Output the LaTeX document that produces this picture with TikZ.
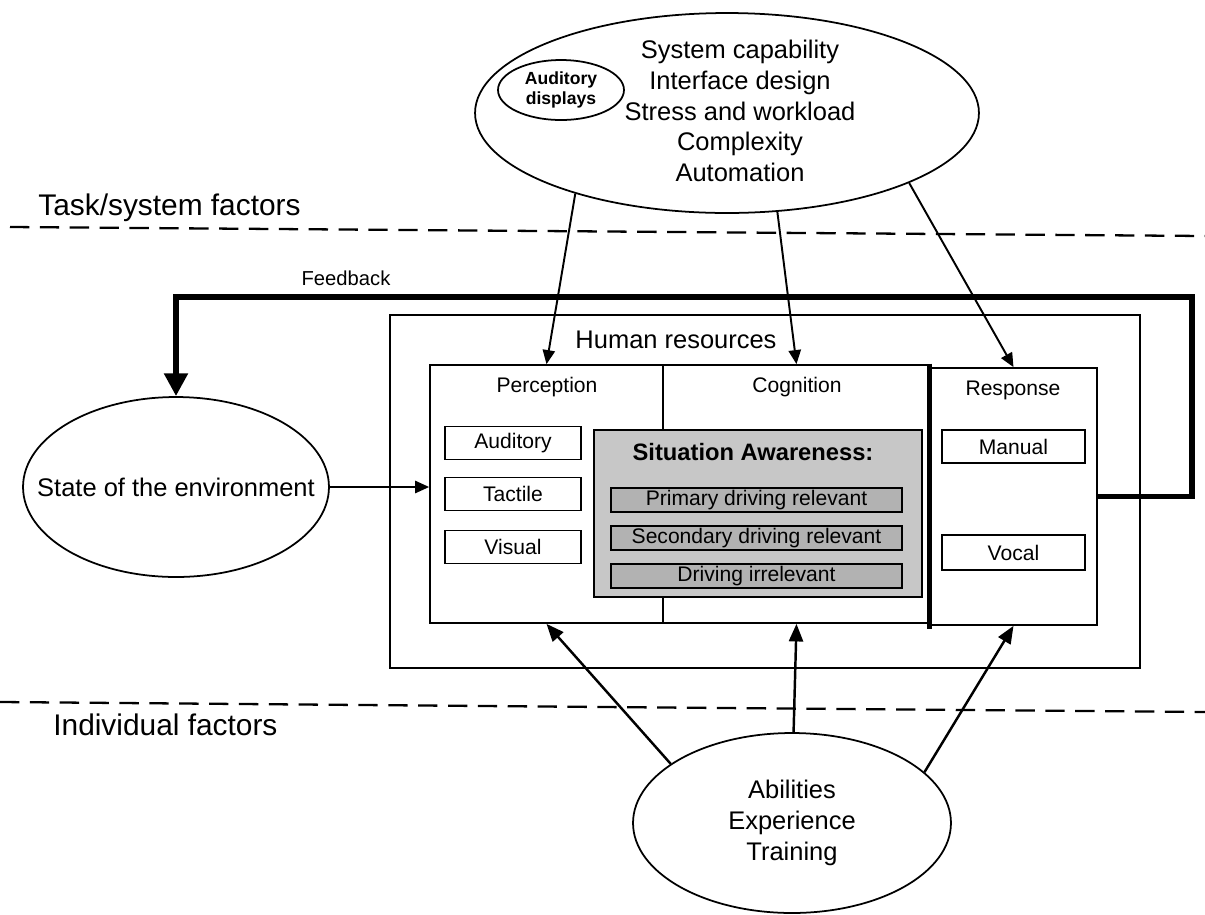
\documentclass[tikz,border=0pt]{standalone}
\usepackage{fontspec}
\setmainfont{Liberation Sans}
\usetikzlibrary{arrows.meta,shapes.geometric}

\begin{document}
\begin{tikzpicture}[x=0.02cm,y=-0.02cm,
    oval/.style={ellipse,draw,line width=1pt,inner sep=0pt},
    box/.style={rectangle,draw,line width=1pt,inner sep=0pt},
    item/.style={rectangle,draw,line width=1pt,inner sep=0pt,minimum width=2.72cm,minimum height=0.66cm,font=\fontsize{12}{14}\selectfont},
    saitem/.style={rectangle,draw,line width=1pt,fill=black!30,inner sep=0pt,minimum width=5.82cm,minimum height=0.48cm,font=\fontsize{12}{14}\selectfont},
    title/.style={font=\fontsize{12}{14}\selectfont},
    big/.style={align=center,font=\fontsize{14.5}{17.5}\selectfont},
    factor/.style={anchor=base west,inner sep=0pt,font=\fontsize{17}{20}\selectfont},
    arr/.style={-{Triangle[length=8pt,width=7pt]},line width=1.1pt},
    arrb/.style={-{Triangle[length=10pt,width=8pt]},line width=1.4pt},
    fback/.style={-{Triangle[length=13pt,width=13pt]},line width=3.4pt},
    sep/.style={dash pattern=on 11pt off 6pt,line width=1.3pt}]
    \useasboundingbox (0,0) rectangle (1205,914);

    % separators
    \draw[sep] (10,227) -- (1205,236);
    \draw[sep] (0,702) -- (1205,712);
    \node[factor] (tasklbl) at (38,215) {Task/system factors};
    \node[factor] (indlbl) at (53,735) {Individual factors};

    % task/system factors
    \node[oval,minimum width=10.08cm,minimum height=4cm] (sys) at (727,113) {};
    \node[oval,minimum width=2.52cm,minimum height=1.2cm,align=center,
          font=\fontsize{10}{11.3}\selectfont\bfseries] (aud) at (561,90) {Auditory\\displays};
    \node[big] (systxt) at (740,111) {System capability\\Interface design\\Stress and workload\\Complexity\\Automation};

    % environment and individual factors
    \node[oval,minimum width=6.12cm,minimum height=3.6cm,
          label={[big]center:State of the environment}] (env) at (176,487) {};
    \node[oval,minimum width=6.36cm,minimum height=3.6cm,
          label={[big]center:{Abilities\\Experience\\Training}}] (abil) at (792,823) {};

    % human resources
    \node[box,minimum width=15cm,minimum height=7.06cm] (hr) at (765,491.5) {};
    \node[big] (hrtxt) at (676,340) {Human resources};
    \node[box,minimum width=4.66cm,minimum height=5.16cm] (perc) at (546.5,494) {};
    \node[box,minimum width=5.34cm,minimum height=5.16cm] (cogn) at (796.5,494) {};
    \node[box,minimum width=3.34cm,minimum height=5.14cm] (resp) at (1013.5,496.5) {};
    \draw[line width=2.8pt] ([yshift=2pt]resp.north west) -- ([yshift=-2pt]resp.south west);
    \node[title] (perctxt) at (547,387) {Perception};
    \node[title] (cogntxt) at (797,387) {Cognition};
    \node[title] (resptxt) at (1013,390) {Response};

    \node[item] (audi) at (513,443) {Auditory};
    \node[item] (tact) at (513,494) {Tactile};
    \node[item] (visu) at (513,547) {Visual};

    \node[box,fill=black!22,minimum width=6.56cm,minimum height=3.34cm] (sa) at (758,513.5) {};
    \node[font=\fontsize{13.5}{16}\selectfont\bfseries] (satxt) at (753,452) {Situation Awareness:};
    \node[saitem] (prim) at (756.5,500) {Primary driving relevant};
    \node[saitem] (secd) at (756.5,538) {Secondary driving relevant};
    \node[saitem] (irrl) at (756.5,576) {Driving irrelevant};

    \node[item,minimum width=2.86cm] (manu) at (1013.5,446.5) {Manual};
    \node[item,minimum width=2.86cm,minimum height=0.7cm] (voca) at (1013.5,552.5) {Vocal};

    % connectors
    \draw[arr] (sys.208) -- (perc.north);
    \draw[arr] (sys.297) -- (cogn.north);
    \draw[arr] (sys.339) -- (resp.north);
    \draw[arr] (env.east) -- (env.east -| perc.west);
    \draw[arrb] (abil.154) -- (perc.south);
    \draw[arrb] (abil.89) -- (cogn.south);
    \draw[arrb] (abil.21) -- (resp.south);

    % feedback loop
    \coordinate (fbturn) at (1192,297);
    \draw[fback] (resp.east) -| (fbturn) -| (env.north);
    \node[font=\fontsize{11.5}{13}\selectfont] (fblbl) at (346,278) {Feedback};
\end{tikzpicture}
\end{document}
